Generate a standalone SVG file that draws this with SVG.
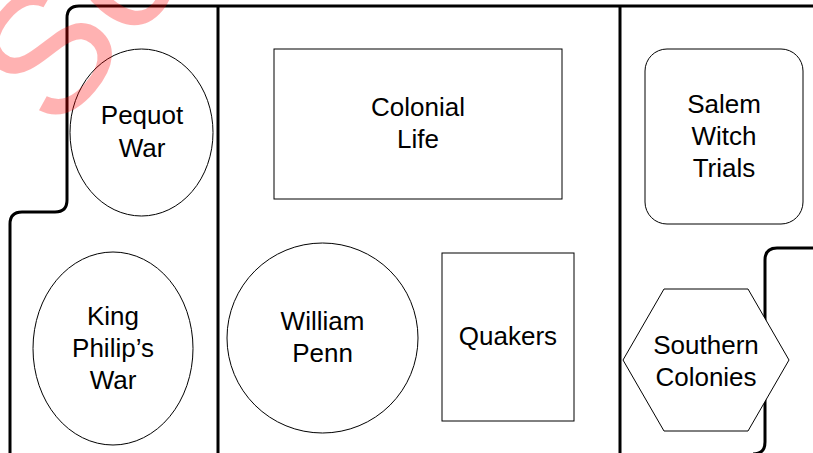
<svg xmlns="http://www.w3.org/2000/svg" width="813" height="453" viewBox="0 0 813 453">
<style>
.wall{fill:none;stroke:#000;stroke-width:3;stroke-linejoin:round}
.shape{fill:#fff;stroke:#000;stroke-width:1}
.lbl{font-family:"Liberation Sans",Arial,sans-serif;font-size:26px;fill:#000;text-anchor:middle}
.wm{font-family:"Liberation Sans",Arial,sans-serif;font-size:175px;fill:#ff0000;fill-opacity:0.3}
</style>
<rect x="0" y="0" width="813" height="453" fill="#fff"/>
<g id="regions">
<path class="wall" d="M10 455 V224 Q10 212 22 212 H55 Q67 212 67 200 V18 Q67 6 79 6 H815"/>
<path class="wall" d="M218 6 V455"/>
<path class="wall" d="M620 6 V455"/>
<path class="wall" d="M815 248 H777 Q765 248 765 260 V442 Q765 454 753 454"/>
</g>
<g id="connectors"></g>
<g id="pequot-war">
<ellipse class="shape" cx="141.5" cy="132.5" rx="71.5" ry="83.5"/>
<text class="lbl" x="142" y="124">Pequot</text>
<text class="lbl" x="142" y="157">War</text>
</g>
<g id="king-philips-war">
<ellipse class="shape" cx="113" cy="348.5" rx="80" ry="96.5"/>
<text class="lbl" x="113" y="325">King</text>
<text class="lbl" x="113" y="357">Philip’s</text>
<text class="lbl" x="113" y="389">War</text>
</g>
<g id="colonial-life">
<rect class="shape" x="274" y="49" width="288" height="150"/>
<text class="lbl" x="418" y="116">Colonial</text>
<text class="lbl" x="418" y="148">Life</text>
</g>
<g id="william-penn">
<ellipse class="shape" cx="322.5" cy="338" rx="95.5" ry="95"/>
<text class="lbl" x="322.5" y="330">William</text>
<text class="lbl" x="322.5" y="362">Penn</text>
</g>
<g id="quakers">
<rect class="shape" x="442" y="253" width="132" height="168"/>
<text class="lbl" x="508" y="345">Quakers</text>
</g>
<g id="salem-witch-trials">
<rect class="shape" x="645" y="49" width="158" height="175" rx="22" ry="22"/>
<text class="lbl" x="724" y="113">Salem</text>
<text class="lbl" x="724" y="145">Witch</text>
<text class="lbl" x="724" y="177">Trials</text>
</g>
<g id="southern-colonies">
<polygon class="shape" points="623,360 664,289 748,289 789,360 748,431 664,431"/>
<text class="lbl" x="706" y="354">Southern</text>
<text class="lbl" x="706" y="386">Colonies</text>
</g>
<text class="wm" transform="translate(56,135) rotate(-50)">Sc</text>
</svg>
